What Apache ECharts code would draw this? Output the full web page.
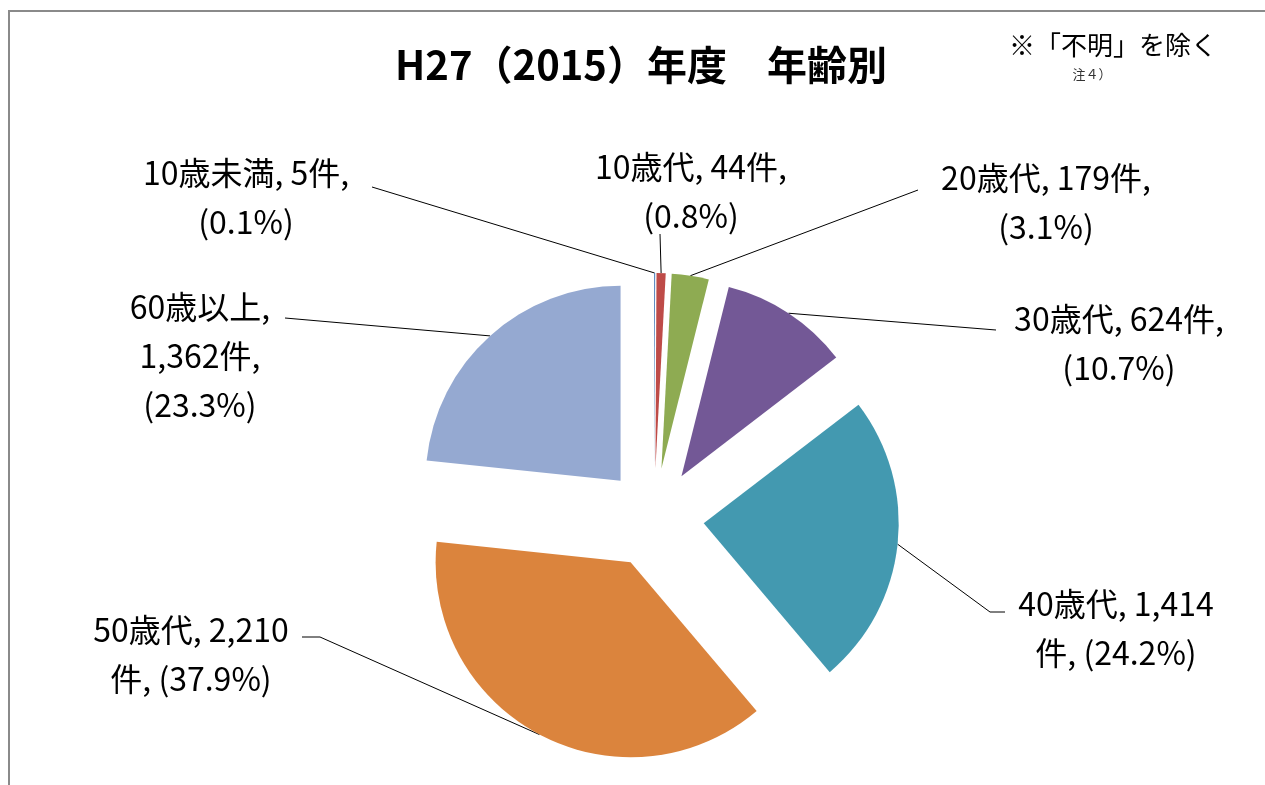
<!DOCTYPE html>
<html>
<head>
<meta charset="utf-8">
<script src="https://cdn.jsdelivr.net/npm/echarts@6/dist/echarts.min.js"></script>
<style>
  html, body { margin: 0; padding: 0; background: #fff; }
  #chart { width: 1265px; height: 785px; }
</style>
</head>
<body>
<div id="chart"></div>
<script>
// Age groups and case counts (unknown excluded)
const ageGroups = ['10歳未満', '10歳代', '20歳代', '30歳代', '40歳代', '50歳代', '60歳以上'];
const caseCounts = [5, 44, 179, 624, 1414, 2210, 1362];
const sliceColors = ['#4A7EBB', '#BE4B48', '#8EAB52', '#735896', '#4399B0', '#DB843D', '#95A9D1'];

const total = caseCounts.reduce((a, b) => a + b, 0);

// pie geometry
const CENTER = [654, 518];
const RADIUS = 195;
const EXPLODE = 50;

// where each label sits and where its leader line meets the text
const labelSpots = [
  { x: 246, y: 197, line: [[372, 187]] },
  { x: 691, y: 191, line: [[660, 234]] },
  { x: 1046, y: 202, line: [[918, 190]] },
  { x: 1119, y: 343, line: [[996, 330]] },
  { x: 1116, y: 628, line: [[1005, 612], [990, 612]] },
  { x: 191, y: 654, line: [[302, 637], [320, 637]] },
  { x: 200, y: 356, line: [[285, 318]] },
];
// line-break pattern per label
const labelTemplates = [
  '{n}, {v}件,\n({p}%)',
  '{n}, {v}件,\n({p}%)',
  '{n}, {v}件,\n({p}%)',
  '{n}, {v}件,\n({p}%)',
  '{n}, {v}\n件, ({p}%)',
  '{n}, {v}\n件, ({p}%)',
  '{n},\n{v}件,\n({p}%)',
];

const chart = echarts.init(document.getElementById('chart'));

const sliceData = ageGroups.map((name, i) => ({
  name,
  value: caseCounts[i],
  selected: true,
  itemStyle: { color: sliceColors[i] },
}));

const labelData = ageGroups.map((name, i) => ({ name, value: caseCounts[i] }));

chart.setOption({
  animation: false,
  title: [
    {
      text: 'H27（2015）年度　年齢別',
      left: 636,
      top: 40,
      textAlign: 'center',
      textStyle: {
        fontFamily: '"Noto Sans CJK JP", sans-serif',
        fontSize: 40,
        fontWeight: 'bold',
        color: '#000',
      },
    },
    {
      text: '※「不明」を除く',
      left: 1108,
      top: 27,
      textAlign: 'center',
      textStyle: {
        fontFamily: '"Noto Sans CJK JP", serif',
        fontSize: 26,
        fontWeight: 'normal',
        color: '#000',
      },
    },
    {
      text: '注４）',
      left: 1087,
      top: 63,
      textAlign: 'center',
      textStyle: {
        fontFamily: '"Noto Sans CJK JP", serif',
        fontSize: 13,
        fontWeight: 'normal',
        color: '#333',
      },
    },
  ],
  graphic: [
    {
      type: 'rect',
      shape: { x: 9, y: 11, width: 1300, height: 800 },
      style: { fill: 'none', stroke: '#8a8a8a', lineWidth: 2 },
      silent: true,
    },
  ],
  series: [
    {
      // exploded slices
      type: 'pie',
      center: CENTER,
      radius: RADIUS,
      startAngle: 90,
      clockwise: true,
      selectedMode: 'multiple',
      selectedOffset: EXPLODE,
      silent: true,
      label: { show: false },
      labelLine: { show: false },
      itemStyle: { borderWidth: 0 },
      select: { itemStyle: { borderWidth: 0 } },
      data: sliceData,
    },
    {
      // labels and leader lines
      type: 'pie',
      center: CENTER,
      radius: RADIUS,
      startAngle: 90,
      clockwise: true,
      silent: true,
      avoidLabelOverlap: false,
      itemStyle: { color: 'rgba(0,0,0,0)', borderWidth: 0 },
      label: {
        show: true,
        position: 'outside',
        fontFamily: '"Noto Sans CJK JP", sans-serif',
        fontSize: 32,
        lineHeight: 49,
        color: '#000',
        align: 'center',
        formatter: (p) => {
          const pct = (p.value / total * 100).toFixed(1);
          return labelTemplates[p.dataIndex]
            .replace('{n}', p.name)
            .replace('{v}', echarts.format.addCommas(p.value))
            .replace('{p}', pct);
        },
      },
      labelLine: { show: true, lineStyle: { color: '#000', width: 1 } },
      labelLayout: (params) => {
        const spot = labelSpots[params.dataIndex];
        const p0 = params.labelLinePoints[0];
        const dx = p0[0] - CENTER[0];
        const dy = p0[1] - CENTER[1];
        const len = Math.sqrt(dx * dx + dy * dy);
        const edge = [
          CENTER[0] + dx / len * (RADIUS + EXPLODE),
          CENTER[1] + dy / len * (RADIUS + EXPLODE),
        ];
        const pts = [edge].concat(spot.line.slice().reverse());
        while (pts.length < 3) pts.push(pts[pts.length - 1]);
        return {
          x: spot.x,
          y: spot.y,
          align: 'center',
          verticalAlign: 'middle',
          labelLinePoints: pts,
        };
      },
      data: labelData,
    },
  ],
});
</script>
</body>
</html>
